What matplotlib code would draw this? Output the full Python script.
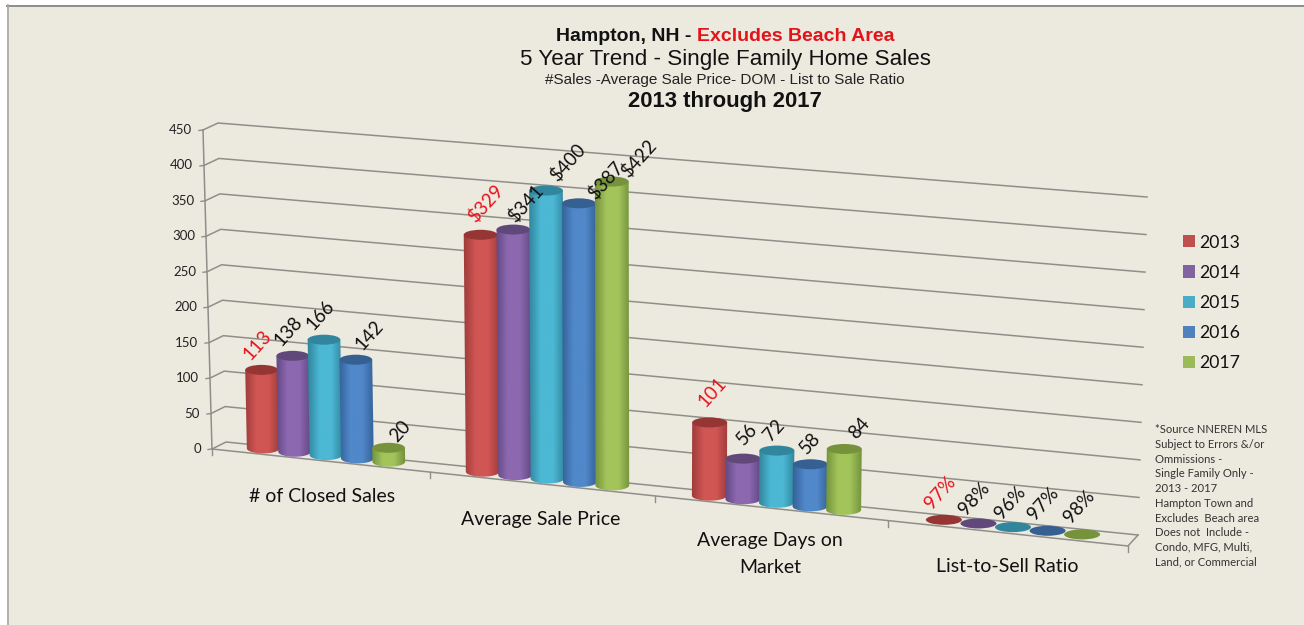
import numpy as np
import matplotlib
matplotlib.use('Agg')
import matplotlib.pyplot as plt
from matplotlib.colors import LinearSegmentedColormap
from matplotlib.patches import Ellipse, Patch, PathPatch, Rectangle
from matplotlib.path import Path

# data
years = ['2013', '2014', '2015', '2016', '2017']
categories = ['# of Closed Sales', 'Average Sale Price', 'Average Days on\nMarket', 'List-to-Sell Ratio']
closed_sales = [113, 138, 166, 142, 20]
avg_price = [329, 341, 400, 387, 422]
avg_dom = [101, 56, 72, 58, 84]
list_ratio = [0.97, 0.98, 0.96, 0.97, 0.98]
y_ticks = [0, 50, 100, 150, 200, 250, 300, 350, 400, 450]

sales_labels = ['113', '138', '166', '142', '20']
price_labels = ['$329', '$341', '$400', '$387', '$422']
dom_labels = ['101', '56', '72', '58', '84']
ratio_labels = ['97%', '98%', '96%', '97%', '98%']

note = ('*Source NNEREN MLS\nSubject to Errors &/or\nOmmissions -\nSingle Family Only -\n2013 - 2017\n'
        'Hampton Town and\nExcludes  Beach area\nDoes not  Include -\nCondo, MFG, Multi,\nLand, or Commercial')

# colours
flat_colors = ['#C0504D', '#8064A2', '#4BACC6', '#4F81BD', '#9BBB59']
edge_colors = ['#9C3A38', '#5F4680', '#2F8299', '#335F96', '#708F3B']
mid_colors = ['#D05654', '#8C68B0', '#4CB8D4', '#5088CA', '#A2C45A']
top_colors = ['#963634', '#60497A', '#31859C', '#366092', '#76933C']
BG = '#ECE9DF'
GRID = '#8F8F8A'

# perspective frame of the chart, in picture pixels
FRONT_L, FRONT_R = np.array([212, 449.]), np.array([1128, 546.])
BACK_L, BACK_R = np.array([226, 442.]), np.array([1138, 535.])
TOP_BACK_L, TOP_BACK_R = np.array([218, 123.]), np.array([1147, 197.])
TOP_FRONT_L = np.array([203, 130.])
cat_edges = [212, 430, 655, 888, 1128]
BAR_STEP = 0.144
BAR_W = 0.15
# the first group sits a bit lower on the value scale than the others
px_per_unit = [0.695, 0.72, 0.725, 0.72]
RY = 5


def lerp(a, b, t):
    return a + (b - a) * t


def floor_x(u):
    return np.interp(u, range(5), cat_edges)


def draw_cylinder(ax, u, h, i):
    left = floor_x(u - BAR_W / 2)
    right = floor_x(u + BAR_W / 2)
    cx = (left + right) / 2 + 5
    rx = (right - left) / 2
    base = FRONT_L[1] + (cx - FRONT_L[0]) * (FRONT_R[1] - FRONT_L[1]) / (FRONT_R[0] - FRONT_L[0]) - 6
    # verticals lean out a little towards the sides of the picture
    lean = (-8 + 17 * (cx - 212) / 916) / 338
    tx = cx + lean * h
    ty = base - h
    if h > 2:
        a = np.linspace(np.pi, 0, 40)
        x_low = cx + rx * np.cos(a)
        y_low = base + RY * np.sin(a)
        pts = list(zip(x_low, y_low)) + [(tx + rx, ty), (tx - rx, ty), (x_low[0], y_low[0])]
        clip = PathPatch(Path(pts), fc='none', ec='none', transform=ax.transData)
        ax.add_patch(clip)
        cmap = LinearSegmentedColormap.from_list('c', [edge_colors[i], mid_colors[i], mid_colors[i], edge_colors[i]])
        grad = np.linspace(0, 1, 64).reshape(1, -1)
        im = ax.imshow(grad, cmap=cmap, aspect='auto', interpolation='bilinear', zorder=3 + i,
                       extent=(min(cx, tx) - rx - 1, max(cx, tx) + rx + 1, base + RY + 1, ty - 1))
        im.set_clip_path(clip)
    ax.add_patch(Ellipse((tx, ty), 2 * rx, 2 * RY, fc=top_colors[i], ec='none', zorder=3 + i))
    return tx, ty


fig = plt.figure(figsize=(13.04, 6.25), dpi=100, facecolor='white')
ax = fig.add_axes([0, 0, 1, 1])
ax.axis('off')
ax.set_xlim(0, 1304)
ax.set_ylim(625, 0)

ax.add_patch(Rectangle((7, 5), 1297, 620, fc=BG, ec='none', zorder=0))
ax.plot([7, 1304], [5.5, 5.5], color='#8E8E88', lw=1.4, zorder=1)
ax.plot([7.5, 7.5], [5, 625], color='#A8A8A2', lw=1.2, zorder=1)

# walls and gridlines
for v in y_ticks:
    t = v / 450
    bl = lerp(BACK_L, TOP_BACK_L, t)
    br = lerp(BACK_R, TOP_BACK_R, t)
    fl = lerp(FRONT_L, TOP_FRONT_L, t)
    ax.plot([fl[0], bl[0], br[0]], [fl[1], bl[1], br[1]], color=GRID, lw=1.1, zorder=1)
    ax.plot([fl[0] - 4, fl[0]], [fl[1] + 0.5, fl[1]], color=GRID, lw=1, zorder=1)
    ax.text(fl[0] - 11, fl[1], str(v), ha='right', va='center', fontsize=9.5, color='#222222', family='Lato')
ax.plot([TOP_FRONT_L[0], FRONT_L[0]], [TOP_FRONT_L[1], FRONT_L[1]], color=GRID, lw=1.1, zorder=1)
ax.plot([FRONT_L[0], FRONT_R[0], BACK_R[0]], [FRONT_L[1], FRONT_R[1], BACK_R[1]], color=GRID, lw=1.1, zorder=1)
for x in cat_edges:
    y = FRONT_L[1] + (x - FRONT_L[0]) * (FRONT_R[1] - FRONT_L[1]) / (FRONT_R[0] - FRONT_L[0])
    ax.plot([x, x], [y, y + 6], color=GRID, lw=1, zorder=1)

# bars and their rotated labels
series = [closed_sales, avg_price, avg_dom, list_ratio]
labels = [sales_labels, price_labels, dom_labels, ratio_labels]
label_off = [[(-4, -25), (-4, -25), (-4, -25), (13, -25), (12, -17)],
             [(5, -31), (12, -26), (22, -28), (27, -23), (27, -23)],
             [(3, -30), (4, -24), (-3, -20), (0, -21), (15, -21)],
             [(-4, -27), (-4, -25), (-3, -25), (-4, -27), (-3, -28)]]
for c in range(4):
    for i in range(5):
        u = c + 0.5 + (i - 2) * BAR_STEP
        tx, ty = draw_cylinder(ax, u, px_per_unit[c] * series[c][i], i)
        dx, dy = label_off[c][i]
        ax.text(tx + dx, ty + dy, labels[c][i], rotation=48, ha='center', va='center', fontsize=13.5,
                family='Lato', color='#E8141C' if i == 0 else '#111111', zorder=20)

# category names
cat_pos = [(322, 496), (541, 520), (770, 554), (1007, 566)]
for name, (x, y) in zip(categories, cat_pos):
    ax.text(x, y, name, ha='center', va='center', fontsize=14, family='Lato', color='#111111', linespacing=1.65)

# titles, first line has two colours on one baseline
t1 = ax.text(556, 41, 'Hampton, NH - ', ha='left', va='baseline', fontsize=14, fontweight='bold',
             family='Liberation Sans', color='#111111')
box = t1.get_window_extent(fig.canvas.get_renderer())
x_red = ax.transData.inverted().transform((box.x1, 0))[0]
ax.text(x_red, 41, 'Excludes Beach Area', ha='left', va='baseline', fontsize=14,
        fontweight='bold', family='Liberation Sans', color='#E2141A')
ax.text(725, 59, '5 Year Trend - Single Family Home Sales', ha='center', va='center', fontsize=16.1,
        family='Liberation Sans', color='#111111')
ax.text(725, 80, '#Sales -Average Sale Price- DOM - List to Sale Ratio', ha='center', va='center', fontsize=11,
        family='Liberation Sans', color='#222222')
ax.text(725, 101, '2013 through 2017', ha='center', va='center', fontsize=15.9, fontweight='bold',
        family='Liberation Sans', color='#111111')

# legend
handles = [Patch(fc=c, ec='none', label=y) for c, y in zip(flat_colors, years)]
ax.legend(handles=handles, loc='upper left', bbox_to_anchor=(1179, 231), bbox_transform=ax.transData, frameon=False,
          prop={'family': 'Lato', 'size': 12.7}, handlelength=0.68, handleheight=0.68, handletextpad=0.25,
          labelspacing=0.8, borderpad=0.2, borderaxespad=0, labelcolor='#111111')

ax.text(1155, 496, note, ha='left', va='center', fontsize=8.1, family='Lato', color='#333333', linespacing=1.41)

ax.set_xlim(0, 1304)
ax.set_ylim(625, 0)
fig.savefig('out.png', dpi=100, facecolor='white')
